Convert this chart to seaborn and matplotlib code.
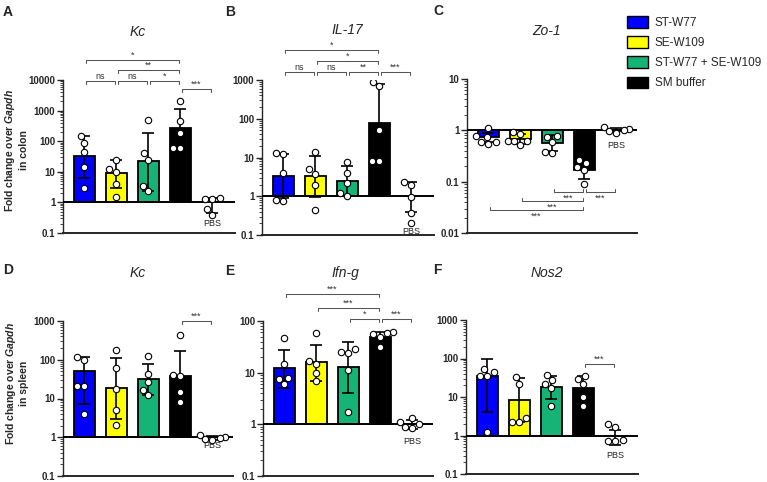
import numpy as np
import pandas as pd
import matplotlib
matplotlib.use("Agg")
import matplotlib.pyplot as plt
import matplotlib.transforms as mtrans
from matplotlib.patches import Patch
from matplotlib.ticker import LogLocator, NullFormatter, FuncFormatter
import seaborn as sns

# ---------------- data ----------------
groups = ["ST-W77", "SE-W109", "ST-W77 + SE-W109", "SM buffer", "PBS"]
colors = ["#0000FF", "#FFFF00", "#16B377", "#000000"]

# A: Kc (colon)
A_mean = [32, 9, 22, 270, 0.95]
A_lo = [6.5, 3.0, 2.3, 65, 0.45]
A_hi = [150, 25, 190, 1100, 1.4]
A_pts = [[150, 90, 45, 14, 3], [25, 10, 12, 4, 1.5], [500, 40, 25, 3.5, 2.4],
         [2100, 450, 180, 60, 60], [1.4, 1.3, 1.3, 0.6, 0.4]]

# B: IL-17 (colon)
B_mean = [3.3, 3.3, 2.5, 80, 1.0]
B_lo = [0.9, 0.95, 1.0, 8, 0.4]
B_hi = [12.5, 11, 6, 800, 2.4]
B_pts = [[13, 12, 4, 0.8, 0.75], [14, 5, 3.8, 2, 0.45], [7.5, 4, 2.2, 1.2, 1.0],
         [900, 700, 50, 8, 8], [2.3, 2.0, 0.95, 0.36, 0.2]]

# C: Zo-1 (colon)
C_mean = [0.75, 0.68, 0.56, 0.17, 1.02]
C_lo = [0.6, 0.55, 0.4, 0.115, 0.95]
C_hi = [0.9, 0.85, 0.8, 0.22, 1.1]
C_pts = [[1.1, 0.76, 0.74, 0.59, 0.59, 0.53], [0.93, 0.83, 0.62, 0.62, 0.62, 0.51],
         [0.78, 0.74, 0.59, 0.38, 0.36], [0.27, 0.23, 0.19, 0.166, 0.092],
         [1.15, 1.05, 1.0, 0.95, 0.9]]

# D: Kc (spleen)
D_mean = [50, 19, 32, 39, 1.0]
D_lo = [7.3, 3.0, 12.6, 9, 0.85]
D_hi = [115, 112, 78, 165, 1.1]
D_pts = [[118, 100, 21, 21, 4.1], [175, 62, 18, 5, 2.1], [125, 44, 26, 16.5, 12.3],
         [440, 40, 38, 15, 8.3], [1.15, 1.0, 0.95, 0.9, 0.85]]

# E: Ifn-g (spleen)
E_mean = [12.4, 16, 13, 50, 1.0]
E_lo = [5.1, 6.8, 4.0, 40, 0.8]
E_hi = [27, 34, 40, 62, 1.2]
E_pts = [[47, 14.4, 8, 7.5, 6], [58, 17, 15, 10, 7], [29, 25, 24, 11.5, 1.7],
         [62, 58, 55, 50, 31], [1.3, 1.1, 1.0, 0.9, 0.85]]

# F: Nos2 (spleen)
F_mean = [35, 8.5, 18, 17, 0.85]
F_lo = [4.0, 2.2, 9, 9, 0.55]
F_hi = [100, 32, 35, 35, 1.4]
F_pts = [[52, 45, 35, 35, 1.2], [33, 22, 2.8, 2.3, 2.2], [38, 27, 22, 17, 6],
         [35, 30, 22, 10, 6], [2.0, 1.7, 0.78, 0.72, 0.7]]

titles = ["Kc", "IL-17", "Zo-1", "Kc", "Ifn-g", "Nos2"]
letters = ["A", "B", "C", "D", "E", "F"]

# significance brackets: (group i, group j, label)
A_sig = [(0, 3, "*"), (1, 3, "**"), (0, 1, "ns"), (1, 2, "ns"), (2, 3, "*"), (3, 4, "***")]
B_sig = [(0, 3, "*"), (1, 3, "*"), (0, 1, "ns"), (1, 2, "ns"), (2, 3, "**"), (3, 4, "***")]
C_sig = [(2, 3, "***"), (3, 4, "***"), (1, 3, "***"), (0, 3, "***")]
D_sig = [(3, 4, "***")]
E_sig = [(0, 3, "***"), (1, 3, "***"), (2, 3, "*"), (3, 4, "***")]
F_sig = [(3, 4, "***")]

# ---------------- style ----------------
sns.set_theme(style="ticks")
plt.rcParams["font.family"] = ["Liberation Sans", "DejaVu Sans"]
plt.rcParams.update({
    "mathtext.fontset": "custom",
    "mathtext.rm": "Liberation Sans",
    "mathtext.it": "Liberation Sans:italic",
    "mathtext.bf": "Liberation Sans:bold",
    "mathtext.bfit": "Liberation Sans:italic:bold",
})

W, H = 767, 482
fig = plt.figure(figsize=(W / 100, H / 100), dpi=100)
fig.patch.set_facecolor("white")

UNIT = 32.0  # px per category


def add_ax(x0, y0, x1, y1):
    return fig.add_axes([x0 / W, 1 - y1 / H, (x1 - x0) / W, (y1 - y0) / H])


def bracket(ax, i, j, ypx, label, below=False):
    tr = mtrans.blended_transform_factory(ax.transData, fig.transFigure)
    y = 1 - ypx / H
    tick = 3.0 / H
    g = 0.04
    x1, x2 = i + g, j - g
    if below:
        ys = [y + tick, y, y, y + tick]
    else:
        ys = [y - tick, y, y, y - tick]
    ax.plot([x1, x1, x2, x2], ys, color="#555555", lw=0.75, transform=tr, clip_on=False)
    if below:
        ax.text((x1 + x2) / 2, y - 2.0 / H, label, transform=tr, ha="center", va="top",
                fontsize=6.5, color="#333333")
    else:
        ax.text((x1 + x2) / 2, y + 0.5 / H, label, transform=tr, ha="center", va="bottom",
                fontsize=6.5, color="#333333")


def panel(box, ylim, mean, lo, hi, pts, sig, sig_y, title, title_xy, letter, letter_xy,
          pbs_y, below=False, ylabel=None, ylabel_y=0.5):
    ax = add_ax(*box)
    heights = [m - 1 for m in mean[:4]]
    bar_df = pd.DataFrame({"group": groups[:4], "height": heights})
    sns.barplot(data=bar_df, x="group", y="height", hue="group", order=groups,
                hue_order=groups[:4], palette=colors, bottom=1, width=0.68,
                edgecolor="black", linewidth=1.3, errorbar=None, legend=False,
                saturation=1, ax=ax, zorder=2)
    ax.set_yscale("log")
    ax.set_ylim(*ylim)
    m = np.array(mean)
    ax.errorbar(x=np.arange(5), y=m, yerr=[m - np.array(lo), np.array(hi) - m],
                fmt="none", ecolor="black", elinewidth=1.2, capsize=4.5, capthick=1.2,
                zorder=3)
    pts_df = pd.DataFrame({
        "group": [g for g, p in zip(groups, pts) for _ in p],
        "value": [v for p in pts for v in p],
    })
    sns.swarmplot(data=pts_df, x="group", y="value", order=groups, color="white",
                  edgecolor="black", linewidth=0.8, size=4.6, ax=ax, zorder=6)
    ax.axhline(1, color="black", lw=1.4, zorder=5)

    left = -0.67
    ax.set_xlim(left, left + (box[2] - box[0]) / UNIT)
    ax.set_ylim(*ylim)
    ax.set_xticks([])
    ax.set_xlabel("")
    ax.set_ylabel("")
    for s in ("top", "right"):
        ax.spines[s].set_visible(False)
    ax.spines["bottom"].set_linewidth(1.4)
    ax.spines["left"].set_linewidth(1.0)
    ax.yaxis.set_major_locator(LogLocator(base=10, numticks=12))
    ax.yaxis.set_minor_locator(LogLocator(base=10, subs=np.arange(2, 10), numticks=12))
    ax.yaxis.set_major_formatter(FuncFormatter(lambda v, p: f"{v:g}"))
    ax.yaxis.set_minor_formatter(NullFormatter())
    ax.tick_params(axis="y", which="major", length=4, width=1.0, labelsize=7, pad=1.5)
    ax.tick_params(axis="y", which="minor", length=2, width=0.6)
    for t in ax.get_yticklabels():
        t.set_fontweight("bold")

    # PBS label
    tr = mtrans.blended_transform_factory(ax.transData, fig.transFigure)
    ax.text(4, 1 - pbs_y / H, "PBS", transform=tr, ha="center", va="center",
            fontsize=6.5, color="#222222")

    for (i, j, lab), ypx in zip(sig, sig_y):
        bracket(ax, i, j, ypx, lab, below=below)

    fig.text(title_xy[0] / W, 1 - title_xy[1] / H, title, ha="center", va="center",
             fontsize=10, style="italic")
    fig.text(letter_xy[0] / W, 1 - letter_xy[1] / H, letter, ha="center", va="center",
             fontsize=10, fontweight="bold")
    if ylabel:
        ax.set_ylabel(ylabel, fontsize=7.5, fontweight="bold", linespacing=1.15)
        ax.yaxis.set_label_coords(-0.2, ylabel_y)
    return ax


panel((63, 80, 235, 233), (0.1, 10000), A_mean, A_lo, A_hi, A_pts, A_sig,
      [60, 70, 81, 81, 81, 89], titles[0], (138, 32), letters[0], (8, 12), 224,
      ylabel="Fold change over $\\mathbfit{Gapdh}$\nin colon", ylabel_y=0.54)
panel((262, 80, 434, 235), (0.1, 1000), B_mean, B_lo, B_hi, B_pts, B_sig,
      [50, 61, 72, 72, 72, 72], titles[1], (347, 30), letters[1], (230, 12), 231)
panel((467, 79, 637, 233), (0.01, 10), C_mean, C_lo, C_hi, C_pts, C_sig,
      [192, 192, 201, 210], titles[2], (547, 31), letters[2], (438, 11), 145, below=True)
panel((63, 321, 233, 476), (0.1, 1000), D_mean, D_lo, D_hi, D_pts, D_sig,
      [321], titles[3], (138, 273), letters[3], (8, 270), 446,
      ylabel="Fold change over $\\mathbfit{Gapdh}$\nin spleen", ylabel_y=0.6)
panel((263, 321, 433, 476), (0.1, 100), E_mean, E_lo, E_hi, E_pts, E_sig,
      [294, 308, 319, 319], titles[4], (345, 273), letters[4], (230, 271), 442)
panel((466, 320, 638, 474), (0.1, 1000), F_mean, F_lo, F_hi, F_pts, F_sig,
      [364], titles[5], (547, 273), letters[5], (437, 270), 455)

handles = [Patch(facecolor=c, edgecolor="black", linewidth=1.0) for c in colors]
fig.legend(handles, groups[:4], loc="upper left", bbox_to_anchor=(627 / W, 1 - 16 / H),
           frameon=False, fontsize=8.5, handlelength=1.75, handleheight=1.15,
           handletextpad=0.6, labelspacing=0.62, borderpad=0, borderaxespad=0)

fig.savefig("out.png", dpi=100, facecolor="white")
